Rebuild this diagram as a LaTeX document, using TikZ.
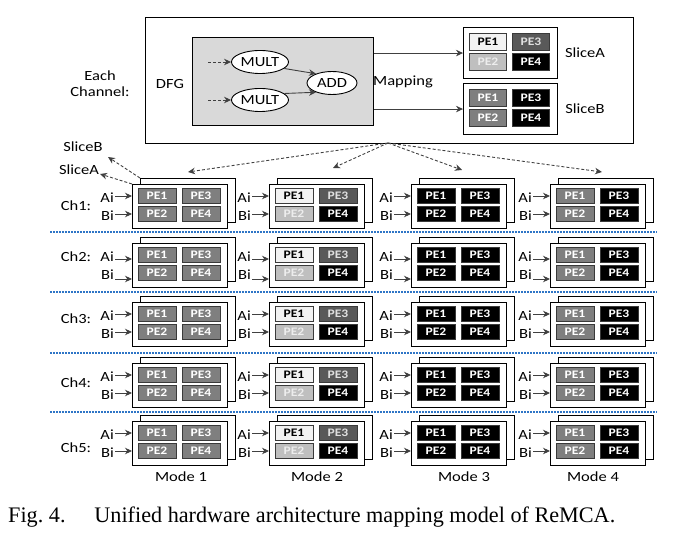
\documentclass[tikz,border=0pt]{standalone}
\usepackage{fontspec}
\usepackage{graphicx}
\setmainfont{Carlito}[FakeStretch=1.18]
\newfontfamily\capfont{Liberation Serif}
\usetikzlibrary{arrows.meta,shapes.geometric}
\definecolor{cG}{HTML}{7F7F7F}
\definecolor{cL}{HTML}{F2F2F2}
\definecolor{cM}{HTML}{BFBFBF}
\definecolor{cD}{HTML}{595959}
\definecolor{cK}{HTML}{000000}
\definecolor{cBorder}{HTML}{3A3A3A}
\definecolor{cArrow}{HTML}{404040}
\definecolor{cSep}{HTML}{2E75C6}
\definecolor{cDfg}{HTML}{D9D9D9}
\tikzset{
  card/.style={draw=black, line width=1.1pt, fill=white, minimum width=95pt,
    minimum height=44pt, anchor=north west, inner sep=0pt},
  slicebox/.style={draw=black, line width=1.1pt, fill=white, minimum width=94pt,
    minimum height=51pt, anchor=north west, inner sep=0pt},
  pecell/.style={draw=cBorder, line width=0.8pt, minimum width=38pt,
    minimum height=15pt, inner sep=0pt, font=\fontsize{11.5}{12}\selectfont\bfseries},
  peG/.style={pecell, fill=cG, text=white},
  peL/.style={pecell, fill=cL, text=black},
  peM/.style={pecell, fill=cM, text=white!93!black},
  peD/.style={pecell, fill=cD, text=white!88!black},
  peK/.style={pecell, fill=cK, text=white},
  lab/.style={font=\fontsize{14}{15}\selectfont, inner sep=0pt},
  arr/.style={draw=cArrow, line width=0.9pt, -{Stealth[length=7pt,width=6.5pt]}},
  darr/.style={arr, dash pattern=on 3pt off 2pt},
  sepline/.style={draw=cSep, line width=1.3pt, dash pattern=on 1.6pt off 1.4pt},
  oval/.style={ellipse, draw=black, line width=0.9pt, fill=white, inner sep=0pt,
    font=\fontsize{14}{15}\selectfont}
}
% #1 name, #2 x (left), #3 y (top), #4..#7 styles of PE1, PE3, PE2, PE4
\newcommand\pecard[7]{%
  \node[card] (#1b) at (#2+8,#3-6) {};
  \node[card] (#1) at (#2,#3) {};
  \node[#4] (#1p1) at (#2+25,#3+12) {PE1};
  \node[#5] (#1p3) at (#2+69,#3+12) {PE3};
  \node[#6] (#1p2) at (#2+25,#3+30) {PE2};
  \node[#7] (#1p4) at (#2+69,#3+30) {PE4};
}
\newcommand\slicecard[7]{%
  \node[slicebox] (#1) at (#2,#3) {};
  \node[#4, minimum width=37pt, minimum height=17pt] (#1p1) at (#2+25,#3+14.5) {PE1};
  \node[#5, minimum width=37pt, minimum height=17pt] (#1p3) at (#2+68,#3+14.5) {PE3};
  \node[#6, minimum width=37pt, minimum height=17pt] (#1p2) at (#2+25,#3+35) {PE2};
  \node[#7, minimum width=37pt, minimum height=17pt] (#1p4) at (#2+68,#3+35) {PE4};
}
\begin{document}
\begin{tikzpicture}[x=1pt,y=-1pt]
\useasboundingbox (0,0) rectangle (674,534);
% ---------- top box ----------
\node[draw=black, line width=1.1pt, minimum width=488pt, minimum height=126pt,
  anchor=north west, inner sep=0pt] (top) at (145,17) {};
\node[draw=black, line width=0.9pt, fill=cDfg, minimum width=181pt, minimum height=88pt,
  anchor=north west, inner sep=0pt] (dfg) at (192,37) {};
\node[lab, align=center] (each) at (100,84) {Each\\[1pt]Channel:};
\node[lab] (dfglab) at (170,84) {DFG};
\node[oval, minimum width=57pt, minimum height=23pt] (m1) at (260,62) {MULT};
\node[oval, minimum width=57pt, minimum height=23pt] (m2) at (260,100) {MULT};
\node[oval, minimum width=50pt, minimum height=23pt] (add) at (332,83) {ADD};
\coordinate (in1) at (208,62);
\coordinate (in2) at (208,100);
\draw[darr] (in1) -- (m1.west);
\draw[darr] (in2) -- (m2.west);
\draw[arr] (m1.-15) -- (add.150);
\draw[arr] (m2.15) -- (add.210);
\slicecard{sa}{463}{27}{peL}{peD}{peM}{peK}
\slicecard{sb}{463}{83}{peG}{peK}{peG}{peK}
\draw[arr] (dfg.east |- sa.west) -- (sa.west);
\draw[arr] (dfg.east |- sb.west) -- (sb.west);
\node[lab] (maplab) at (403,82) {Mapping};
\node[lab] (salab) at (585,53) {SliceA};
\node[lab] (sblab) at (585,109) {SliceB};
% ---------- separators ----------
\foreach \yy in {232,292,353,412}{
  \draw[sepline] (50,\yy) -- (657,\yy);
}
% ---------- channel rows ----------
\foreach \r/\T/\ly/\aa/\ab in {1/184/206/0/0, 2/243/257/4/6, 3/302/319/0/0, 4/363/383/0/0, 5/421/448/0/0}{
  \node[lab] (ch\r) at (76,\ly) {Ch\r:};
  \foreach \m/\X/\sA/\sB/\sC/\sD in {1/132/peG/peG/peG/peG, 2/269/peL/peD/peM/peK,
      3/411/peK/peK/peK/peK, 4/550/peG/peK/peG/peK}{
    \pecard{c\r\m}{\X}{\T}{\sA}{\sB}{\sC}{\sD}
    \coordinate (ai\r\m) at (\X-17,\T+12+\aa);
    \coordinate (bi\r\m) at (\X-17,\T+30+\ab);
    \draw[arr] (ai\r\m) -- (c\r\m.west |- ai\r\m);
    \draw[arr] (bi\r\m) -- (c\r\m.west |- bi\r\m);
    \node[lab, anchor=east] (lai\r\m) at (\X-18,\T+14) {Ai};
    \node[lab, anchor=east] (lbi\r\m) at (\X-18,\T+32) {Bi};
  }
}
% ---------- mapping dashed arrows ----------
\coordinate (org) at (388,143);
\coordinate (t1) at (188,172);
\coordinate (t2) at (333,168);
\coordinate (t3) at (462,170);
\coordinate (t4) at (602,172);
\foreach \t in {t1,t2,t3,t4}{ \draw[darr] (org) -- (\t); }
\coordinate (sae) at (100,174);
\coordinate (sbe) at (108,157);
\draw[darr] (c11.north west) -- (sae);
\draw[darr] (c11b.north west) -- (sbe);
\node[lab] (slA) at (79,170) {SliceA};
\node[lab] (slB) at (83,147) {SliceB};
% ---------- mode labels ----------
\node[lab] (md1) at (181,477) {Mode 1};
\node[lab] (md2) at (317,477) {Mode 2};
\node[lab] (md3) at (464,477) {Mode 3};
\node[lab] (md4) at (593,477) {Mode 4};
% ---------- caption ----------
\node[anchor=base west, inner sep=0pt] (cap) at (8,522)
  {\resizebox{607pt}{!}{\capfont\fontsize{19}{22}\selectfont Fig.~4.\hspace{1.3em}Unified hardware architecture mapping model of ReMCA.}};
\end{tikzpicture}
\end{document}
